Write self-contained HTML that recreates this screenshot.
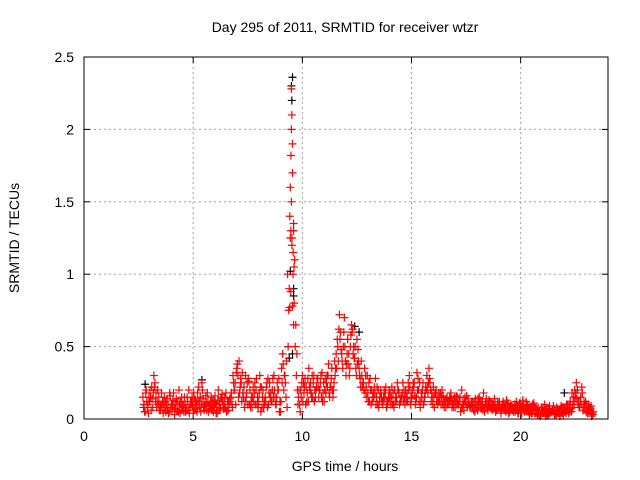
<!DOCTYPE html>
<html><head><meta charset="utf-8"><style>
html,body{margin:0;padding:0;background:#fff}
svg{display:block;font-family:"Liberation Sans",sans-serif}
</style></head><body>
<svg id="chart" width="640" height="480" viewBox="0 0 640 480" xmlns="http://www.w3.org/2000/svg">
<rect width="640" height="480" fill="#fff"/>
<text x="345" y="32" font-size="14" text-anchor="middle">Day 295 of 2011, SRMTID for receiver wtzr</text>
<g id="grid"></g>
<g id="axes"></g>
<g id="marks"></g>
<rect x="84" y="57" width="524" height="362" fill="none" stroke="#000" stroke-width="1"/>
<text x="345" y="471" font-size="14" text-anchor="middle">GPS time / hours</text>
<text transform="translate(19,238) rotate(-90)" font-size="14" text-anchor="middle">SRMTID / TECUs</text>
</svg>
<script>
const xTicks=[0,5,10,15,20];
const yTicks=[0,0.5,1,1.5,2,2.5];
const yTickLabels=["0","0.5","1","1.5","2","2.5"];
const startA=2.7, startB=2.75, startC=2.725, startD=2.775, stepH=0.1;
const srmtidA=[.15,.05,.08,.12,.22,.3,.18,.1,.06,.12,
.08,.14,.05,.1,.18,.07,.12,.04,.09,.15,
.06,.2,.1,.04,.13,.18,.08,.25,.06,.11,
.05,.12,.09,.16,.04,.1,.14,.07,.18,.06,
.12,.08,.2,.35,.4,.25,.15,.3,.1,.2,
.08,.18,.28,.12,.05,.2,.15,.08,.25,.12,
.3,.1,.2,.05,.45,.3,.08,.9,2.28,1.3,
.65,.1,.05,.3,.22,.12,.35,.18,.25,.15,
.28,.2,.32,.12,.25,.38,.22,.15,.3,.55,
.72,.45,.6,.3,.38,.5,.62,.42,.55,.35,
.4,.25,.3,.18,.28,.12,.22,.15,.08,.2,
.12,.18,.1,.14,.22,.08,.15,.2,.12,.25,
.1,.18,.3,.14,.22,.12,.28,.08,.2,.15,
.3,.35,.12,.22,.18,.1,.15,.2,.08,.14,
.12,.18,.1,.08,.15,.12,.2,.06,.1,.14,
.08,.12,.05,.1,.15,.07,.18,.1,.06,.12,
.09,.14,.06,.1,.04,.12,.08,.11,.05,.09,
.07,.12,.04,.1,.13,.06,.09,.03,.08,.11,
.04,.08,.02,.06,.1,.03,.07,.05,.09,.04,
.06,.02,.08,.05,.1,.04,.07,.12,.15,.2,
.08,.22,.12,.05,.1,.07,.03];
const srmtidB=[.1,.2,.04,.15,.08,.25,.12,.06,.18,.1,
.05,.1,.16,.08,.03,.12,.2,.06,.1,.05,
.12,.08,.15,.06,.1,.22,.05,.14,.09,.18,
.1,.06,.13,.04,.2,.08,.12,.15,.06,.1,
.18,.25,.1,.3,.22,.32,.08,.18,.26,.12,
.22,.1,.15,.3,.08,.12,.22,.1,.18,.28,
.15,.25,.05,.35,.2,.15,.5,1.6,1.9,1.1,
.45,.2,.15,.25,.1,.28,.2,.3,.12,.22,
.15,.3,.18,.28,.22,.15,.35,.25,.45,.4,
.6,.35,.5,.45,.3,.65,.5,.35,.48,.28,
.22,.35,.15,.25,.1,.18,.28,.1,.15,.12,
.2,.08,.15,.1,.18,.12,.25,.1,.16,.2,
.15,.25,.1,.2,.16,.32,.12,.18,.1,.22,
.18,.25,.15,.08,.12,.18,.1,.16,.12,.1,
.15,.08,.13,.16,.1,.05,.12,.15,.08,.1,
.12,.06,.1,.14,.08,.12,.05,.09,.13,.07,
.1,.05,.12,.08,.1,.06,.13,.04,.1,.07,
.05,.09,.11,.04,.08,.12,.05,.07,.1,.04,
.06,.03,.08,.05,.02,.07,.04,.06,.03,.08,
.04,.09,.03,.06,.1,.05,.18,.1,.25,.12,
.15,.06,.1,.04,.08,.02];
const srmtidC=[.08,.18,.1,.2,.14,.22,.08,.15,.1,.04,
.12,.06,.18,.1,.07,.14,.05,.12,.08,.1,
.15,.04,.12,.18,.07,.1,.15,.2,.1,.06,
.09,.15,.05,.11,.13,.07,.17,.1,.05,.12,
.15,.3,.25,.38,.18,.12,.22,.15,.28,.08,
.15,.25,.1,.18,.22,.08,.12,.28,.15,.2,
.2,.15,.28,.12,.38,.25,1.0,1.4,1.25,.8,
.3,.15,.2,.12,.28,.18,.22,.15,.3,.2,
.22,.25,.12,.2,.3,.18,.28,.2,.35,.5,
.55,.4,.7,.38,.45,.58,.45,.5,.38,.3,
.3,.2,.22,.12,.2,.15,.18,.22,.12,.15,
.15,.22,.12,.18,.1,.2,.12,.18,.15,.12,
.2,.12,.22,.18,.25,.15,.2,.12,.25,.18,
.22,.28,.18,.15,.2,.12,.18,.1,.12,.15,
.1,.14,.08,.12,.1,.15,.08,.12,.16,.1,
.1,.08,.14,.06,.12,.1,.08,.14,.1,.08,
.06,.1,.08,.12,.07,.09,.05,.1,.08,.06,
.1,.06,.08,.05,.09,.07,.1,.06,.04,.08,
.07,.05,.03,.08,.06,.04,.09,.05,.07,.03,
.05,.07,.04,.08,.06,.1,.05,.15,.18,.1,
.12,.18,.08,.1,.06,.09,.05];
const srmtidD=[.05,.12,.15,.06,.18,.12,.2,.1,.08,.15,
.1,.04,.08,.13,.1,.06,.1,.15,.05,.08,
.06,.12,.09,.14,.05,.12,.1,.08,.16,.12,
.07,.12,.08,.1,.06,.15,.1,.08,.12,.14,
.1,.2,.32,.15,.28,.18,.12,.25,.1,.15,
.12,.2,.08,.22,.15,.1,.25,.18,.12,.15,
.1,.2,.12,.25,.3,.4,.75,1.3,1.0,.5,
.2,.1,.25,.18,.22,.12,.25,.15,.2,.28,
.2,.15,.25,.18,.3,.22,.2,.4,.35,.62,
.48,.5,.4,.55,.35,.6,.42,.3,.4,.22,
.25,.18,.3,.12,.2,.15,.1,.2,.18,.1,
.15,.12,.2,.15,.1,.15,.2,.12,.18,.15,
.12,.2,.15,.25,.1,.2,.25,.15,.12,.2,
.25,.2,.1,.18,.15,.12,.15,.12,.08,.12,
.12,.1,.15,.1,.12,.08,.1,.12,.1,.08,
.09,.12,.08,.1,.12,.06,.1,.08,.1,.1,
.08,.06,.1,.06,.09,.08,.06,.08,.07,.05,
.08,.04,.07,.09,.05,.06,.08,.04,.06,.07,
.03,.06,.05,.04,.07,.03,.05,.06,.04,.05,
.06,.05,.08,.04,.07,.12,.08,.2,.14,.08,
.1,.08,.12,.05,.06,.04];
const peakTimes=[9.5,9.52,9.48,9.55,9.5,9.6,9.45,9.58,9.62,9.47,9.55,9.6,9.52,9.42];
const peakValues=[2.0,2.1,1.82,1.7,1.5,1.35,1.25,1.15,1.05,0.88,0.78,0.65,1.2,0.77];
const blackTimes=[9.55,9.5,9.52,9.45,9.6,9.55,9.6,9.4,12.4,12.6,5.4,2.8,22.0];
const blackValues=[2.36,2.3,2.2,1.02,0.9,0.45,0.85,0.42,0.64,0.6,0.27,0.24,0.18];

const X0=84,X1=608,Y0=419,Y1=57,xMax=24,yMax=2.5;
const xs=v=>X0+(v/xMax)*(X1-X0);
const ys=v=>Y0-(v/yMax)*(Y0-Y1);
const NS="http://www.w3.org/2000/svg";
const grid=document.getElementById('grid'),axes=document.getElementById('axes'),marks=document.getElementById('marks');
function mk(tag,attrs,parent){const e=document.createElementNS(NS,tag);for(const k in attrs)e.setAttribute(k,attrs[k]);parent.appendChild(e);return e;}
xTicks.forEach(t=>{
  const x=xs(t);
  if(t>0){const g=mk('line',{x1:x,y1:Y0,x2:x,y2:Y1,stroke:'#a0a0a0','stroke-dasharray':'2,3'},grid);
  
  }
  mk('line',{x1:x,y1:Y0,x2:x,y2:Y0-6,stroke:'#000'},axes);
  mk('line',{x1:x,y1:Y1,x2:x,y2:Y1+6,stroke:'#000'},axes);
  const l=mk('text',{x:x,y:Y0+22,'font-size':'14','text-anchor':'middle'},axes);l.textContent=t;
  
  
});
yTicks.forEach((t,i)=>{
  const y=ys(t);
  if(t>0&&t<yMax){const g=mk('line',{x1:X0,y1:y,x2:X1,y2:y,stroke:'#a0a0a0','stroke-dasharray':'2,3'},grid);
  
  }
  mk('line',{x1:X0,y1:y,x2:X0+6,y2:y,stroke:'#000'},axes);
  mk('line',{x1:X1,y1:y,x2:X1-6,y2:y,stroke:'#000'},axes);
  const l=mk('text',{x:X0-10,y:y+5,'font-size':'14','text-anchor':'end'},axes);l.textContent=yTickLabels[i];
  
  
});
function plus(t,v,color,name){
  const x=xs(t),y=ys(v);
  const p=mk('path',{d:`M${x-4},${y}H${x+4}M${x},${y-4}V${y+4}`,stroke:color,'stroke-width':'1.2',fill:'none'},marks);
  
  
}
blackTimes.forEach((t,i)=>plus(t,blackValues[i],'#000','black-point'));
srmtidA.forEach((v,i)=>plus(startA+i*stepH,v,'#ff0000','red-point'));
srmtidB.forEach((v,i)=>plus(startB+i*stepH,v,'#ff0000','red-point'));
srmtidC.forEach((v,i)=>plus(startC+i*stepH,v,'#ff0000','red-point'));
srmtidD.forEach((v,i)=>plus(startD+i*stepH,v,'#ff0000','red-point'));
peakTimes.forEach((t,i)=>plus(t,peakValues[i],'#ff0000','red-point'));
</script>
</body></html>
